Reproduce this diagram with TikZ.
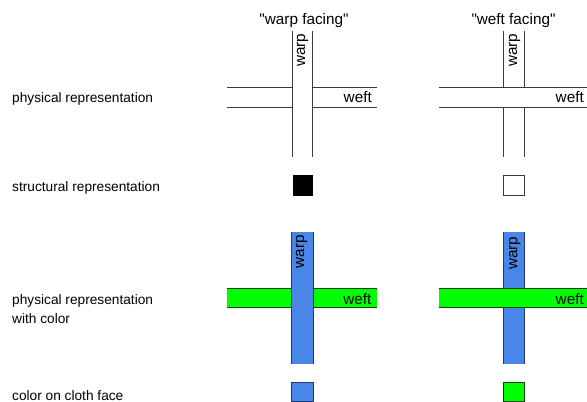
\documentclass[tikz,border=0pt]{standalone}
\usepackage{fontspec}
\setmainfont{Liberation Sans}
\newfontfamily\plainsans{Liberation Sans}
\definecolor{warpblue}{HTML}{4A86E8}
\definecolor{warpedge}{HTML}{1C3A6E}
\definecolor{weftgreen}{HTML}{00FF00}
\definecolor{weftedge}{HTML}{0E3F0E}
\definecolor{thread}{HTML}{3A3A3A}
\begin{document}
\begin{tikzpicture}[x=1pt,y=-1pt,
  rowlabel/.style={font=\fontsize{13.7}{19}\selectfont, anchor=base west, inner sep=0pt, align=left},
  title/.style={font=\plainsans\fontsize{15.3}{18}\selectfont, anchor=base, inner sep=0pt},
  strandlabel/.style={font=\fontsize{15.3}{18}\selectfont, inner sep=0pt},
  outline/.style={draw=thread, line width=0.9pt},
  warpline/.style={draw=warpedge, line width=1pt},
  weftline/.style={draw=weftedge, line width=1pt}]
\useasboundingbox (0,0) rectangle (587,402);

% row labels
\node[rowlabel] (l1) at (12,102) {physical representation};
\node[rowlabel] (l2) at (12,191.5) {structural representation};
\node[rowlabel] (l3) at (12,304) {physical representation};
\node[rowlabel] (l3b) at (12,323) {with color};
\node[rowlabel] (l4) at (12,400) {color on cloth face};

% column titles
\node[title] (t1) at (304,24.5) {"warp facing"};
\node[title] (t2) at (513.5,24.5) {"weft facing"};

% --- physical, warp facing
\draw[outline] (227,87) -- (377,87) (227,107) -- (377,107);
\fill[white] (292.7,31) rectangle (312.7,157);
\draw[outline] (292.7,31) -- (292.7,157) (312.7,31) -- (312.7,157);
\node[strandlabel, rotate=90, anchor=base west] (w1) at (305.2,67) {warp};
\node[strandlabel, anchor=base east] (f1) at (372,102) {weft};

% --- physical, weft facing
\draw[outline] (503.3,31) -- (503.3,157) (524.7,31) -- (524.7,157);
\fill[white] (439,87) rectangle (587,107);
\draw[outline] (439,87) -- (587,87) (439,107) -- (587,107);
\node[strandlabel, rotate=90, anchor=base west] (w2) at (517,67) {warp};
\node[strandlabel, anchor=base east] (f2) at (584,102) {weft};

% --- structural
\fill[black] (292.7,175) rectangle (313.3,195.5);
\draw[outline, fill=white] (503.3,175.5) rectangle (524.7,195);

% --- physical with color, warp facing
\fill[weftgreen] (227,288.3) rectangle (377,307.7);
\draw[weftline] (227,288.3) -- (377,288.3) (227,307.7) -- (377,307.7);
\fill[warpblue] (291.3,232) rectangle (313.7,364);
\draw[warpline] (291.3,232) -- (291.3,364) (313.7,232) -- (313.7,364);
\node[strandlabel, rotate=90, anchor=base west] (w3) at (304,268.3) {warp};
\node[strandlabel, anchor=base east] (f3) at (371.7,304) {weft};

% --- physical with color, weft facing
\fill[warpblue] (503.3,232) rectangle (524.7,364);
\draw[warpline] (503.3,232) -- (503.3,364) (524.7,232) -- (524.7,364);
\fill[weftgreen] (439,288.3) rectangle (587,307.7);
\draw[weftline] (439,288.3) -- (587,288.3) (439,307.7) -- (587,307.7);
\node[strandlabel, rotate=90, anchor=base west] (w4) at (517.3,270) {warp};
\node[strandlabel, anchor=base east] (f4) at (584,304) {weft};

% --- color on cloth face
\draw[warpline, fill=warpblue] (291.8,382.3) rectangle (313.3,401.5);
\draw[weftline, fill=weftgreen] (503.5,382.3) rectangle (524.8,401.5);
\end{tikzpicture}
\end{document}
